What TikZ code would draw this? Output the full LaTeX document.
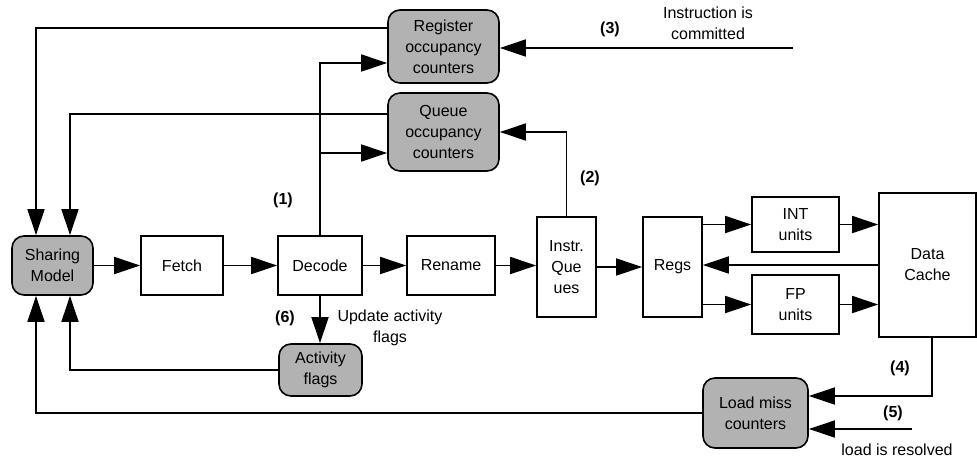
\documentclass[tikz,border=0pt]{standalone}
\usepackage{fontspec}
\setmainfont{Liberation Sans}
\usetikzlibrary{arrows.meta}
\begin{document}
\begin{tikzpicture}[x=1pt,y=-1pt,
  font=\fontsize{16}{21}\selectfont,
  box/.style={draw, line width=1.6pt, fill=white, align=center, inner sep=0pt},
  gbox/.style={box, fill=black!30, rounded corners=12pt},
  arr/.style={line width=1.5pt, -{Triangle[length=26pt,width=17pt]}},
  lbl/.style={font=\fontsize{16}{21}\selectfont\bfseries}]
\useasboundingbox (0,0) rectangle (977,461);
% nodes
\node[gbox, minimum width=111pt, minimum height=73pt] (reg) at (443.5,46.5) {Register\\occupancy\\counters};
\node[gbox, minimum width=111pt, minimum height=78pt] (que) at (443.5,132) {Queue\\occupancy\\counters};
\node[gbox, minimum width=81pt, minimum height=59pt] (share) at (52.5,265.5) {Sharing\\Model};
\node[box, minimum width=82pt, minimum height=59pt] (fetch) at (182,265.5) {Fetch};
\node[box, minimum width=84pt, minimum height=59pt] (decode) at (320,265.5) {Decode};
\node[box, minimum width=88pt, minimum height=59pt] (rename) at (451,265.5) {Rename};
\node[box, minimum width=59pt, minimum height=100pt] (iq) at (566.5,267) {Instr.\\Que\\ues};
\node[box, minimum width=59pt, minimum height=100pt] (regs) at (672.5,267) {Regs};
\node[box, minimum width=87pt, minimum height=55pt] (int) at (795.5,224.5) {INT\\units};
\node[box, minimum width=87pt, minimum height=59pt] (fp) at (795.5,304.5) {FP\\units};
\node[box, minimum width=97pt, minimum height=144pt] (dc) at (927.5,265) {Data\\Cache};
\node[gbox, minimum width=83pt, minimum height=52pt] (act) at (320.5,370) {Activity\\flags};
\node[gbox, minimum width=105pt, minimum height=70pt] (lm) at (755.5,413) {Load miss\\counters};
% labels
\node[lbl] (l1) at (283,200) {(1)};
\node[lbl] (l2) at (590,178) {(2)};
\node[lbl] (l3) at (610,29) {(3)};
\node[lbl] (l4) at (900,368) {(4)};
\node[lbl] (l5) at (893,413) {(5)};
\node[lbl] (l6) at (285,318) {(6)};
\node[align=center] (t3) at (708,23) {Instruction is\\committed};
\node[align=center] (t6) at (390,328) {Update activity\\flags};
\node (t5) at (897,450) {load is resolved};
% coordinates
\coordinate (j1) at (320,153);
\coordinate (c3) at (793,48);
\coordinate (c5) at (912,429);
% connectors
\draw[arr] (reg.west |- 0,28) -| ([xshift=-16.5pt]share.north);
\draw[arr] (que.west |- 0,114) -| ([xshift=17.5pt]share.north);
\draw[arr] (decode.north) |- (reg.west |- 0,63);
\draw[arr] (j1) -- (que.west |- j1);
\draw[arr] (iq.north) |- (que.east);
\draw[arr] (c3) -- (reg.east |- c3);
\draw[arr] (share.east) -- (fetch.west);
\draw[arr] (fetch.east) -- (decode.west);
\draw[arr] (decode.east) -- (rename.west);
\draw[arr] (rename.east) -- (iq.west |- rename.east);
\draw[arr] (iq.east) -- (regs.west);
\draw[arr] (regs.east |- int.west) -- (int.west);
\draw[arr] (regs.east |- fp.west) -- (fp.west);
\draw[arr] (int.east) -- (dc.west |- int.east);
\draw[arr] (fp.east) -- (dc.west |- fp.east);
\draw[arr] (dc.west) -- (regs.east |- dc.west);
\draw[arr] (decode.south) -- (decode.south |- act.north);
\draw[arr] (act.west) -| ([xshift=17.5pt]share.south);
\draw[arr] (lm.west) -| ([xshift=-16.5pt]share.south);
\draw[arr] ([xshift=4.5pt]dc.south) |- (lm.east |- 0,396);
\draw[arr] (c5) -- (lm.east |- c5);
\end{tikzpicture}
\end{document}
